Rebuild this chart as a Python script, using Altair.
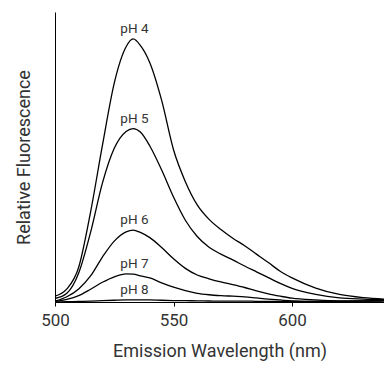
import altair as alt
import pandas as pd

wavelengths = [500, 505, 510, 515, 520, 525, 530, 533, 536, 540, 545, 550, 555, 560,
               565, 570, 575, 580, 585, 590, 595, 600, 610, 620, 630, 642]
ph4 = [2.0, 4.5, 12.0, 31.0, 54.0, 75.5, 88.0, 90.7, 88.5, 82.5, 69.5, 52.5, 41.5, 33.5,
       28.5, 25.0, 22.0, 19.4, 16.5, 13.6, 10.6, 8.3, 4.8, 2.6, 1.5, 0.9]
ph5 = [1.2, 3.0, 10.0, 24.0, 41.0, 53.0, 58.8, 59.8, 58.6, 53.8, 45.5, 36.2, 28.2, 22.6,
       18.9, 16.5, 14.5, 12.4, 10.4, 8.4, 6.4, 4.7, 2.6, 1.4, 1.0, 0.8]
ph6 = [0.3, 1.8, 4.5, 9.0, 15.5, 21.0, 24.2, 24.8, 24.0, 22.2, 18.8, 14.9, 11.6, 9.3,
       8.0, 6.9, 6.0, 5.0, 3.8, 2.8, 2.0, 1.3, 0.7, 0.4, 0.4, 0.6]
ph7 = [0.2, 0.9, 2.2, 4.4, 6.8, 8.7, 9.7, 9.6, 9.0, 8.3, 6.6, 5.1, 3.9, 3.0,
       2.5, 2.2, 2.0, 1.8, 1.4, 1.0, 0.7, 0.4, 0.2, 0.2, 0.3, 0.5]
ph8 = [0.0, 0.1, 0.2, 0.3, 0.45, 0.6, 0.7, 0.75, 0.75, 0.7, 0.6, 0.5, 0.45, 0.4,
       0.35, 0.3, 0.3, 0.3, 0.25, 0.25, 0.2, 0.2, 0.2, 0.2, 0.3, 0.5]

series_names = ["pH 4", "pH 5", "pH 6", "pH 7", "pH 8"]
label_x = [533.5, 533.5, 533.5, 533.5, 533.5]
label_y = [94.2, 63.0, 28.3, 13.1, 4.1]

rows = []
for name, vals in zip(series_names, [ph4, ph5, ph6, ph7, ph8]):
    for w, v in zip(wavelengths, vals):
        rows.append({"series": name, "wl": w, "f": v})
df = pd.DataFrame(rows)
labels = pd.DataFrame({"series": series_names, "wl": label_x, "f": label_y})

FONT = "Roboto"
TXT = "#333333"

x_enc = alt.X("wl:Q", scale=alt.Scale(domain=[500, 638.8], nice=False),
              axis=alt.Axis(values=[500, 550, 600], title="Emission Wavelength (nm)",
                            grid=False, domainColor="black", tickColor="black",
                            tickSize=4, labelFontSize=17, labelFont=FONT, labelColor=TXT,
                            labelFlush=False, labelPadding=6, titleFontSize=18,
                            titleFont=FONT, titleColor=TXT, titleFontWeight="normal",
                            titlePadding=14))
y_enc = alt.Y("f:Q", scale=alt.Scale(domain=[0, 100], nice=False),
              axis=alt.Axis(labels=False, ticks=False, grid=False, domainColor="black",
                            title="Relative Fluorescence", titleFontSize=18,
                            titleFont=FONT, titleColor=TXT, titleFontWeight="normal",
                            titlePadding=22))

lines = alt.Chart(df).mark_line(color="black", strokeWidth=1.3, interpolate="monotone",
                                clip=True).encode(
    x=x_enc, y=y_enc, detail="series:N")

text = alt.Chart(labels).mark_text(font=FONT, fontSize=13.5, color=TXT,
                                   baseline="middle", align="center").encode(
    x="wl:Q", y="f:Q", text="series:N")

chart = (lines + text).properties(
    width=329, height=290,
    autosize=alt.AutoSizeParams(type="none"),
    padding={"left": 47, "top": 4, "right": 0, "bottom": 67},
).configure_view(stroke=None)

chart.save("out.html", embed_options={"renderer": "svg", "actions": False})
